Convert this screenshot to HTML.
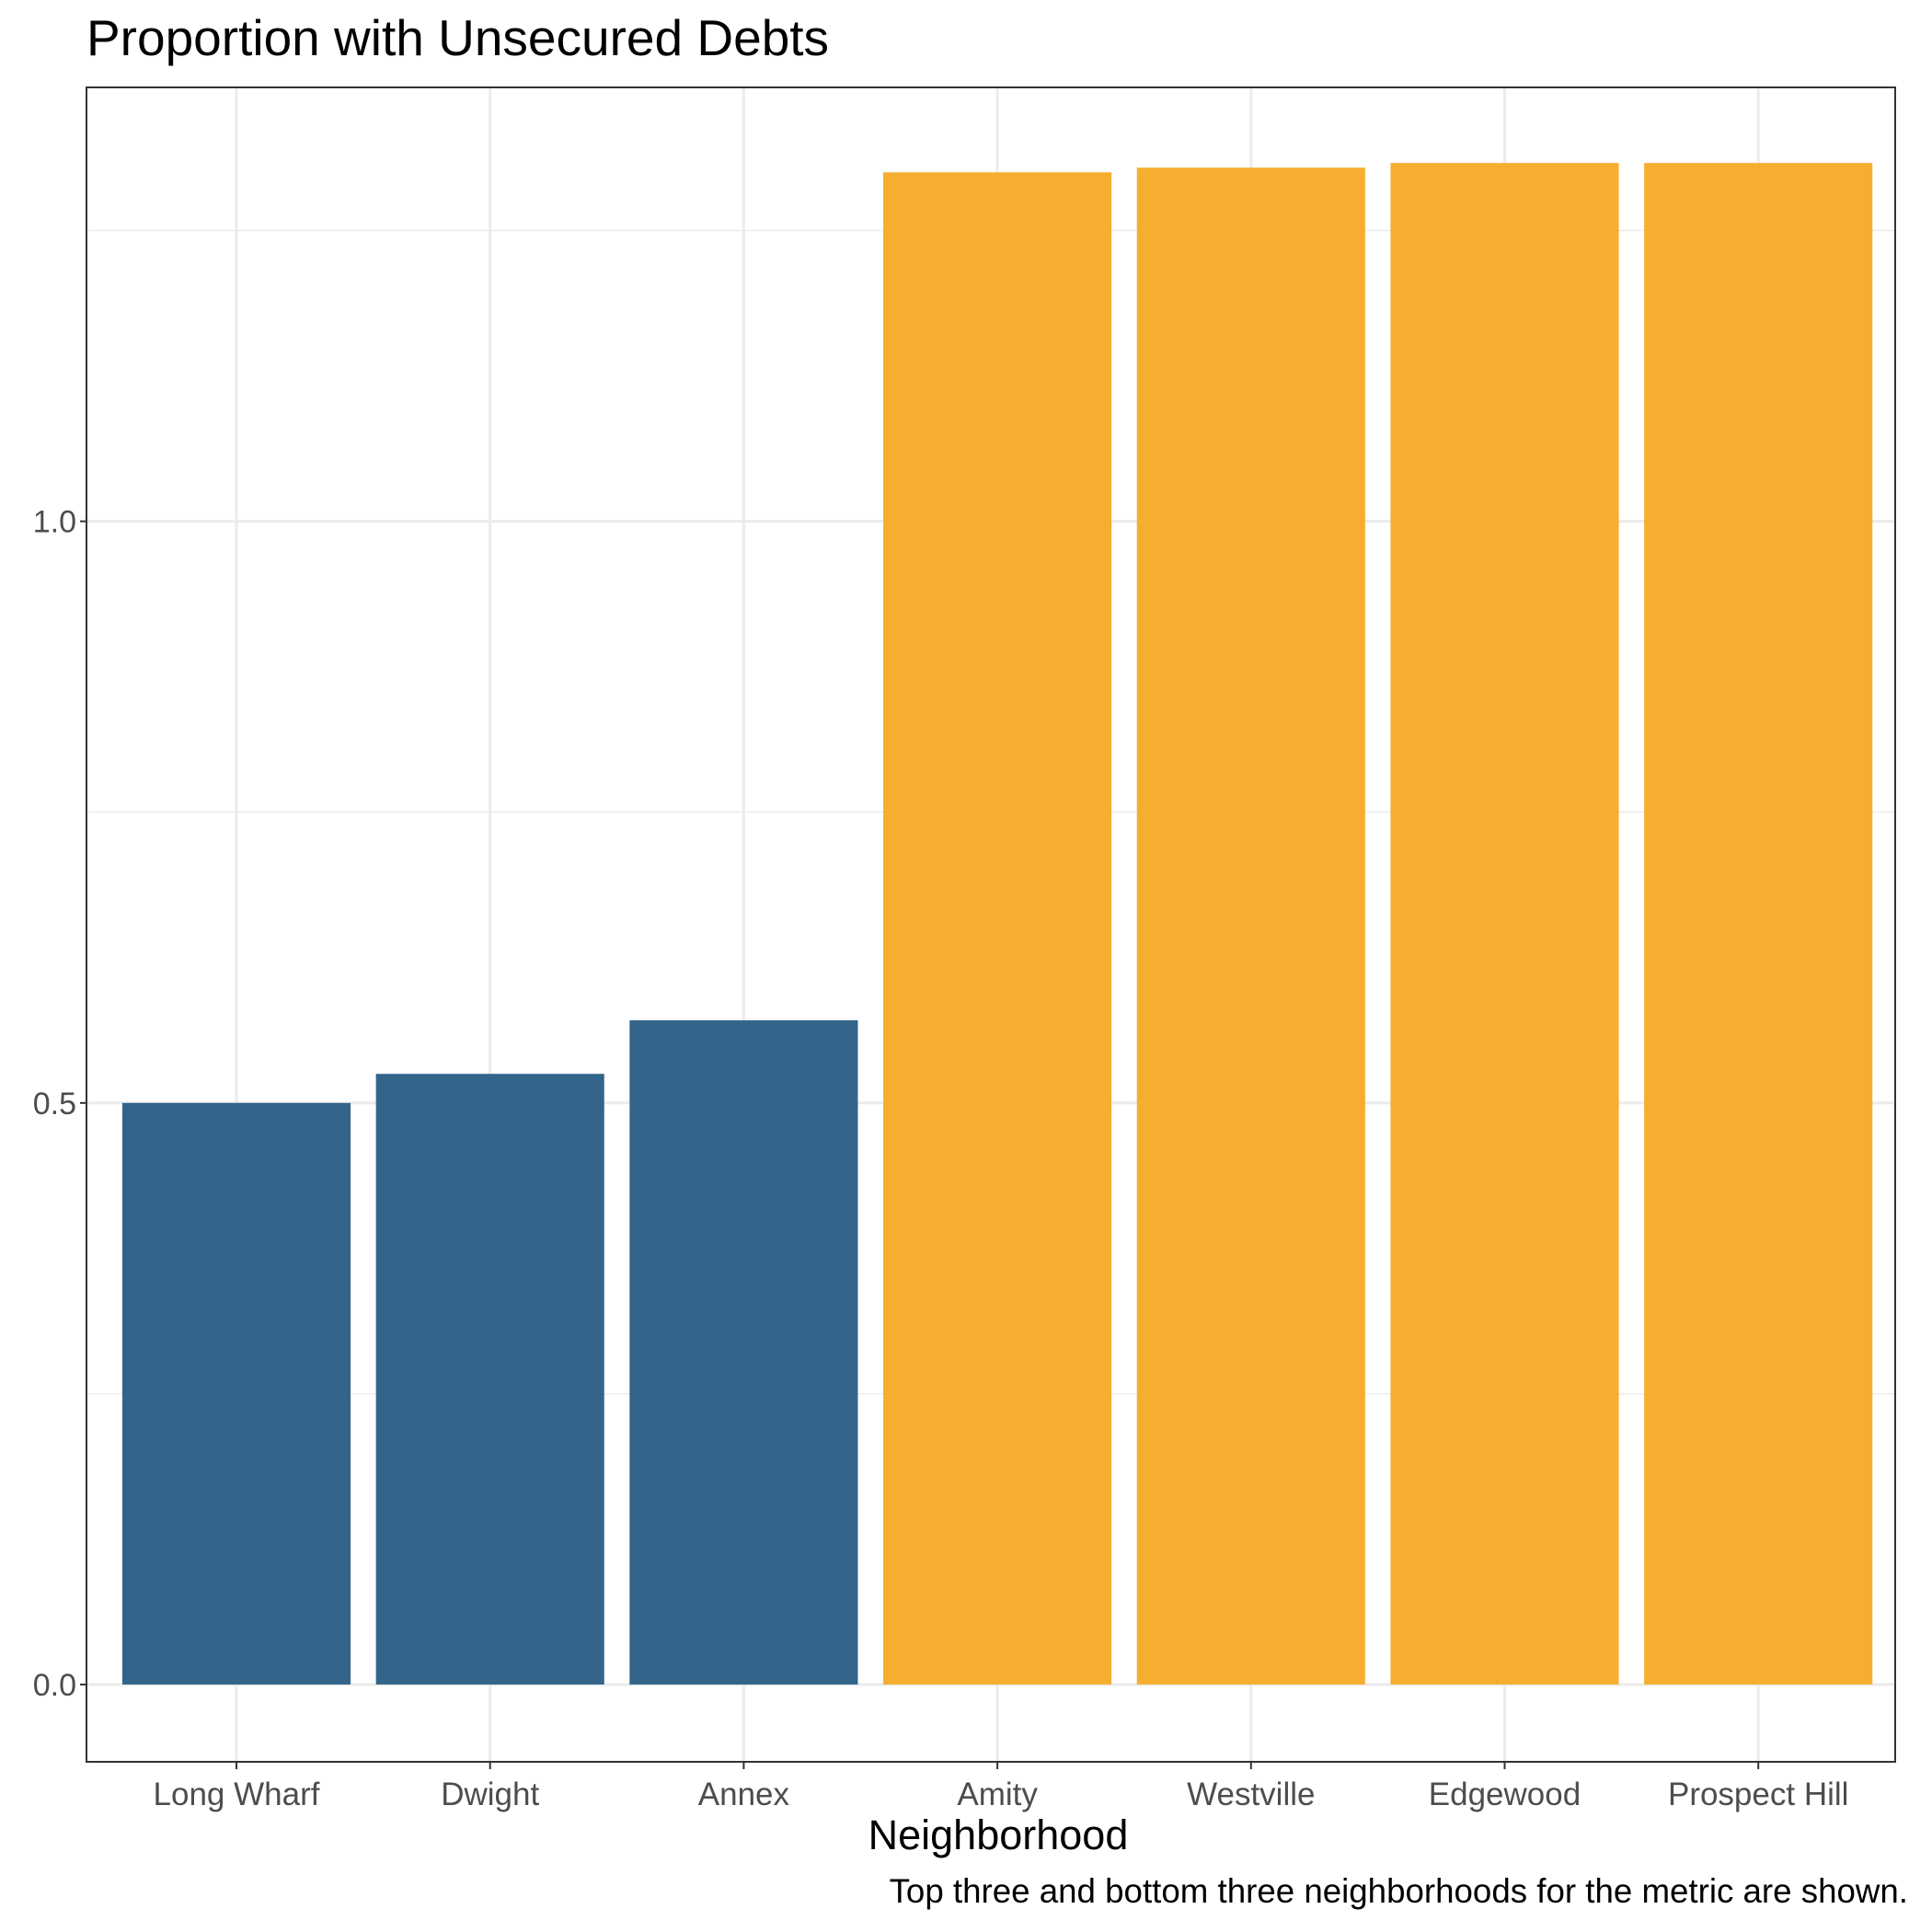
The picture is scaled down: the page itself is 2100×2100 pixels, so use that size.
<!DOCTYPE html>
<html><head><meta charset="utf-8">
<style>
html,body{margin:0;padding:0;background:#fff;}
svg{display:block;font-family:"Liberation Sans",sans-serif;}
</style></head>
<body>
<svg id="chart" width="2100" height="2100" viewBox="0 0 2100 2100" xmlns="http://www.w3.org/2000/svg">
<text x="94" y="60" font-size="55" fill="#000">Proportion with Unsecured Debts</text>
<g id="grid"></g>
<g id="bars"></g>
<rect x="94" y="95" width="1966" height="1820" fill="none" stroke="#333" stroke-width="2"/>
<g id="axes"></g>
<text x="1085" y="2010" font-size="45" text-anchor="middle" fill="#000">Neighborhood</text>
<text x="2074" y="2068" font-size="36.7" text-anchor="end" fill="#000">Top three and bottom three neighborhoods for the metric are shown.</text>
</svg>
<script>
const categories = ["Long Wharf","Dwight","Annex","Amity","Westville","Edgewood","Prospect Hill"];
const values = [0.5, 0.525, 0.571, 1.300, 1.304, 1.308, 1.308];
const groups = ["bottom","bottom","bottom","top","top","top","top"];
const yTicks = [0, 0.5, 1.0];
const yTickLabels = ["0.0","0.5","1.0"];
const yMinor = [0.25, 0.75, 1.25];

const NS="http://www.w3.org/2000/svg";
const L=94,R=2060,T=95,B=1915;
const yMin=-0.0664,yMax=1.373;
function y(v){return B-(v-yMin)/(yMax-yMin)*(B-T);}
const step=275.7;
function x(i){return L+163+i*step;}
const bw=step*0.9;
function mk(tag,attrs,parent){const e=document.createElementNS(NS,tag);for(const k in attrs)e.setAttribute(k,attrs[k]);parent.appendChild(e);return e;}
const grid=document.getElementById('grid'),bars=document.getElementById('bars'),axes=document.getElementById('axes');
yMinor.forEach(v=>{const l=mk('line',{x1:L,x2:R,y1:y(v),y2:y(v),stroke:'#ebebeb','stroke-width':1.5},grid);

});
yTicks.forEach((v,i)=>{const l=mk('line',{x1:L,x2:R,y1:y(v),y2:y(v),stroke:'#ebebeb','stroke-width':3},grid);


const t=mk('line',{x1:L-7,x2:L,y1:y(v),y2:y(v),stroke:'#333','stroke-width':2},axes);


const tx=mk('text',{x:L-11,y:y(v)+12,'font-size':34,'text-anchor':'end',fill:'#4d4d4d'},axes);
tx.textContent=yTickLabels[i];

});
categories.forEach((c,i)=>{const l=mk('line',{x1:x(i),x2:x(i),y1:T,y2:B,stroke:'#ebebeb','stroke-width':3},grid);


const r=mk('rect',{x:x(i)-bw/2,y:y(values[i]),width:bw,height:y(0)-y(values[i]),fill:groups[i]==='top'?'#f5ae2f':'#33658a'},bars);


const t=mk('line',{x1:x(i),x2:x(i),y1:B,y2:B+8,stroke:'#333','stroke-width':2},axes);


const tx=mk('text',{x:x(i),y:1962,'font-size':35,'text-anchor':'middle',fill:'#4d4d4d'},axes);
tx.textContent=c;

});
</script>
</body></html>
